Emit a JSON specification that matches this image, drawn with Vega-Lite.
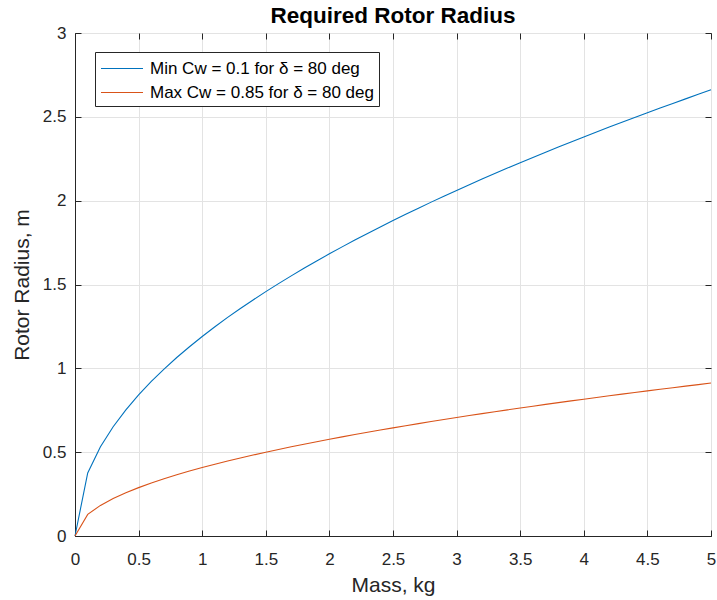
{
  "$schema": "https://vega.github.io/schema/vega-lite/v6.json",
  "width": 636,
  "height": 503,
  "autosize": {"type": "none"},
  "padding": {"left": 75, "top": 33, "right": 6, "bottom": 64},
  "background": "white",
  "title": {"text": "Required Rotor Radius", "font": "Liberation Sans", "fontSize": 22.5, "fontWeight": "bold", "color": "#000000", "offset": -3, "anchor": "middle"},
  "config": {
    "view": {"stroke": "#262626", "strokeWidth": 1},
    "axis": {"domainColor": "#262626", "tickColor": "#262626", "labelColor": "#262626", "titleColor": "#262626", "labelFont": "Liberation Sans", "titleFont": "Liberation Sans", "labelFontSize": 17, "titleFontSize": 21, "titleFontWeight": "normal", "gridColor": "#e3e3e3", "gridWidth": 1, "tickSize": -6, "labelFlush": false, "format": "~g"}
  },
  "data": {"values": [
    {"m":0,"min":0,"max":0},
    {"m":0.1,"min":0.3763,"max":0.1290},
    {"m":0.2,"min":0.5322,"max":0.1825},
    {"m":0.3,"min":0.6518,"max":0.2235},
    {"m":0.4,"min":0.7526,"max":0.2580},
    {"m":0.5,"min":0.8415,"max":0.2885},
    {"m":0.6,"min":0.9218,"max":0.3160},
    {"m":0.7,"min":0.9956,"max":0.3414},
    {"m":0.8,"min":1.0644,"max":0.3649},
    {"m":0.9,"min":1.1289,"max":0.3871},
    {"m":1.0,"min":1.1900,"max":0.4080},
    {"m":1.1,"min":1.2481,"max":0.4279},
    {"m":1.2,"min":1.3036,"max":0.4469},
    {"m":1.3,"min":1.3568,"max":0.4652},
    {"m":1.4,"min":1.4080,"max":0.4828},
    {"m":1.5,"min":1.4574,"max":0.4997},
    {"m":1.6,"min":1.5052,"max":0.5161},
    {"m":1.7,"min":1.5516,"max":0.5320},
    {"m":1.8,"min":1.5966,"max":0.5474},
    {"m":1.9,"min":1.6403,"max":0.5624},
    {"m":2.0,"min":1.6829,"max":0.5770},
    {"m":2.1,"min":1.7245,"max":0.5913},
    {"m":2.2,"min":1.7651,"max":0.6052},
    {"m":2.3,"min":1.8047,"max":0.6188},
    {"m":2.4,"min":1.8435,"max":0.6321},
    {"m":2.5,"min":1.8816,"max":0.6451},
    {"m":2.6,"min":1.9188,"max":0.6579},
    {"m":2.7,"min":1.9554,"max":0.6704},
    {"m":2.8,"min":1.9913,"max":0.6827},
    {"m":2.9,"min":2.0265,"max":0.6948},
    {"m":3.0,"min":2.0611,"max":0.7067},
    {"m":3.1,"min":2.0952,"max":0.7184},
    {"m":3.2,"min":2.1287,"max":0.7299},
    {"m":3.3,"min":2.1617,"max":0.7412},
    {"m":3.4,"min":2.1943,"max":0.7523},
    {"m":3.5,"min":2.2263,"max":0.7633},
    {"m":3.6,"min":2.2579,"max":0.7741},
    {"m":3.7,"min":2.2890,"max":0.7848},
    {"m":3.8,"min":2.3197,"max":0.7953},
    {"m":3.9,"min":2.3501,"max":0.8057},
    {"m":4.0,"min":2.3800,"max":0.8160},
    {"m":4.1,"min":2.4096,"max":0.8261},
    {"m":4.2,"min":2.4388,"max":0.8362},
    {"m":4.3,"min":2.4676,"max":0.8460},
    {"m":4.4,"min":2.4962,"max":0.8558},
    {"m":4.5,"min":2.5244,"max":0.8655},
    {"m":4.6,"min":2.5523,"max":0.8751},
    {"m":4.7,"min":2.5799,"max":0.8845},
    {"m":4.8,"min":2.6072,"max":0.8939},
    {"m":4.9,"min":2.6342,"max":0.9031},
    {"m":5.0,"min":2.6609,"max":0.9123}
  ]},
  "transform": [{"fold": ["min", "max"], "as": ["series", "r"]}],
  "layer": [
    {
      "mark": {"type": "line", "strokeWidth": 1.1},
      "encoding": {
        "x": {"field": "m", "type": "quantitative", "scale": {"domain": [0, 5], "nice": false}, "axis": {"title": "Mass, kg", "values": [0,0.5,1,1.5,2,2.5,3,3.5,4,4.5,5], "labelPadding": 21, "titleY": 49, "titleBaseline": "middle"}},
        "y": {"field": "r", "type": "quantitative", "scale": {"domain": [0, 3], "nice": false}, "axis": {"title": "Rotor Radius, m", "values": [0,0.5,1,1.5,2,2.5,3], "labelPadding": 15, "titleX": -53, "titleBaseline": "middle"}},
        "color": {
          "field": "series", "type": "nominal",
          "scale": {"domain": ["min", "max"], "range": ["#0072BD", "#D95319"]},
          "legend": {
            "title": null, "orient": "none", "legendX": 20, "legendY": 19,
            "labelExpr": "datum.value == 'min' ? 'Min Cw = 0.1 for δ = 80 deg' : 'Max Cw = 0.85 for δ = 80 deg'",
            "symbolType": "M-1,0H3", "symbolSize": 441, "symbolStrokeWidth": 1.2,
            "labelFont": "Liberation Sans", "labelFontSize": 17, "labelColor": "#000000",
            "strokeColor": "#262626", "fillColor": "white", "padding": 5, "rowPadding": 4, "labelOffset": 27, "labelLimit": 400
          }
        }
      }
    },
    {
      "mark": {"type": "line", "opacity": 0},
      "encoding": {
        "x": {"field": "m", "type": "quantitative", "scale": {"domain": [0, 5], "nice": false}, "axis": {"orient": "top", "labels": false, "grid": false, "domain": false, "title": null, "values": [0,0.5,1,1.5,2,2.5,3,3.5,4,4.5,5]}},
        "y": {"field": "r", "type": "quantitative", "scale": {"domain": [0, 3], "nice": false}, "axis": {"orient": "right", "labels": false, "grid": false, "domain": false, "title": null, "values": [0,0.5,1,1.5,2,2.5,3]}},
        "detail": {"field": "series"}
      }
    }
  ],
  "resolve": {"axis": {"x": "independent", "y": "independent"}}
}
